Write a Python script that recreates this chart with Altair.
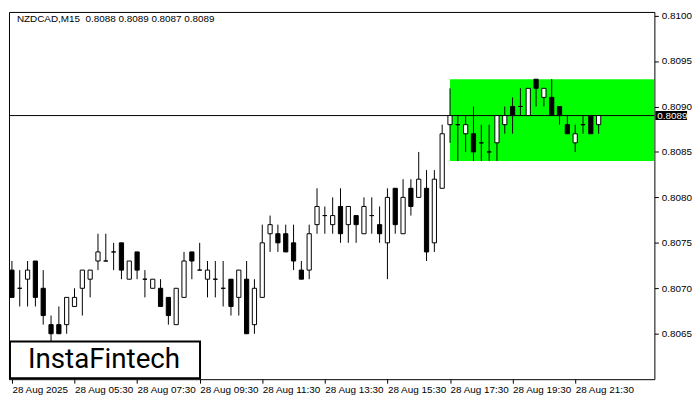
import altair as alt
import pandas as pd

# 15-minute candles, 28 Aug 2025 from 03:30, prices in units of 0.0001 above 0.8000
opens  = [72,70,71,73,70,66,66,66,68,70,71,73,73,74,75,71,74,71,70,70,69,66,69,74,72,71,71,70,71,69,
          71,66,69,76,76,76,75,72,72,77,78,77,79,77,78,76,78,77,75,81,76,81,80,81,75,81,88,88,87,87,
          86,85,86,88,90,90,89,93,91,91,90,88,86,88,89,88]
highs  = [73,72,73,73,72,67,68,69,70,72,72,76,76,75,75,73,74,72,71,71,69,70,74,74,75,73,73,73,71,72,
          73,71,77,78,77,77,77,73,77,81,79,80,81,79,78,80,80,79,81,81,82,82,85,83,83,88,92,89,89,90,
          88,88,89,90,91,92,92,93,92,93,90,89,88,89,89,89]
lows   = [69,68,68,68,66,64,65,65,68,67,69,72,73,72,71,71,71,69,70,68,66,66,69,71,72,69,69,68,67,67,
          65,65,69,74,74,74,72,71,71,76,76,76,75,75,75,76,76,75,71,76,76,78,80,73,74,81,86,84,85,84,
          84,84,84,87,87,89,89,90,90,89,88,87,85,87,87,87]
closes = [69,70,72,69,67,65,65,69,69,72,72,74,73,74,72,73,72,71,71,68,67,70,73,73,72,72,71,70,68,72,
          65,70,75,77,75,74,73,71,76,79,78,78,76,79,77,79,78,76,80,77,80,79,82,74,82,87,89,88,88,85,
          86,85,89,89,89,90,92,92,92,89,89,87,87,88,87,89]

tick_index = [0, 8, 16, 24, 32, 40, 48, 56, 64, 72]
tick_labels = ["28 Aug 2025", "28 Aug 05:30", "28 Aug 07:30", "28 Aug 09:30", "28 Aug 11:30",
               "28 Aug 13:30", "28 Aug 15:30", "28 Aug 17:30", "28 Aug 19:30", "28 Aug 21:30"]
y_ticks = [0.8065, 0.8070, 0.8075, 0.8080, 0.8085, 0.8090, 0.8095, 0.8100]

zone_start = 56
zone_low, zone_high = 0.8084, 0.8093
level = 0.8089
title_text = "NZDCAD,M15\u00a0\u00a00.8088 0.8089 0.8087 0.8089"
logo_text = "InstaFintech"

W, H = 652, 371
XMIN, XMAX = -0.375, 82.125
YMIN, YMAX = 0.8060, 0.81004
FONT = "Liberation Sans"

df = pd.DataFrame({
    "k": list(range(len(opens))),
    "open": [0.8 + v / 10000 for v in opens],
    "high": [0.8 + v / 10000 for v in highs],
    "low": [0.8 + v / 10000 for v in lows],
    "close": [0.8 + v / 10000 for v in closes],
})
df["up"] = df["close"] >= df["open"]
df["x0"] = df["k"] - 0.27
df["x1"] = df["k"] + 0.27

expr = "''"
for v, lab in zip(reversed(tick_index), reversed(tick_labels)):
    expr = f"datum.value == {v} ? '{lab}' : ({expr})"

xs = alt.Scale(domain=[XMIN, XMAX], nice=False, zero=False)
ys = alt.Scale(domain=[YMIN, YMAX], nice=False, zero=False)

xaxis = alt.Axis(values=tick_index, labelExpr=expr, labelAlign="left", labelPadding=1,
                 tickSize=4, domain=False, grid=False, title=None, labelFont=FONT,
                 labelFontSize=10, labelColor="black", tickColor="black", labelOverlap=False,
                 labelBound=False, labelFlush=False)
yaxis = alt.Axis(orient="right", values=y_ticks, format=".4f", tickSize=4, labelPadding=3,
                 domain=False, grid=False, title=None, labelFont=FONT, labelFontSize=10,
                 labelColor="black", tickColor="black", labelOverlap=False, labelFlush=False)

zone = alt.Chart(pd.DataFrame({"a": [zone_start], "b": [XMAX], "lo": [zone_low], "hi": [zone_high]})).mark_rect(
    color="#00ff00", clip=True).encode(
    x=alt.X("a:Q", scale=xs, axis=xaxis), x2="b:Q",
    y=alt.Y("lo:Q", scale=ys, axis=yaxis), y2="hi:Q")

hline = alt.Chart(pd.DataFrame({"p": [level]})).mark_rule(color="black", strokeWidth=1).encode(
    y=alt.Y("p:Q", scale=ys), x=alt.value(0), x2=alt.value(W))

base = alt.Chart(df)
wicks = base.mark_rule(color="black", strokeWidth=1).encode(
    x=alt.X("k:Q", scale=xs), y=alt.Y("low:Q", scale=ys), y2="high:Q")
bodies = base.mark_rect(stroke="black", strokeWidth=1).encode(
    x=alt.X("x0:Q", scale=xs), x2="x1:Q",
    y=alt.Y("open:Q", scale=ys), y2="close:Q",
    fill=alt.condition("datum.up", alt.value("white"), alt.value("black")))

title = alt.Chart(pd.DataFrame({"t": [title_text]})).mark_text(
    align="left", baseline="middle", font=FONT, fontSize=10, color="black").encode(
    x=alt.value(8), y=alt.value(7), text="t:N")

logo_box = alt.Chart(pd.DataFrame({"t": [logo_text]})).mark_rect(
    fill="white", stroke="black", strokeWidth=2).encode(
    x=alt.value(1), x2=alt.value(193), y=alt.value(333), y2=alt.value(370))
logo = alt.Chart(pd.DataFrame({"t": [logo_text]})).mark_text(
    align="center", baseline="middle", font="Roboto", fontSize=28, color="black").encode(
    x=alt.value(96), y=alt.value(352), text="t:N")

tag_box = alt.Chart(pd.DataFrame({"lo": [level - 0.00005], "hi": [level + 0.00005]})).mark_rect(
    color="black", clip=False).encode(
    x=alt.value(W + 1), x2=alt.value(W + 33), y=alt.Y("lo:Q", scale=ys), y2="hi:Q")
tag_text = alt.Chart(pd.DataFrame({"p": [level], "t": [f"{level:.4f}"]})).mark_text(
    align="left", baseline="middle", font=FONT, fontSize=10, color="white").encode(
    x=alt.value(W + 3), y=alt.Y("p:Q", scale=ys), text="t:N")

chart = alt.layer(zone, hline, wicks, bodies, title, logo_box, logo, tag_box, tag_text).properties(
    width=W, height=H, padding=0, background="white"
).configure_view(stroke="black", strokeWidth=1)

chart.save("out.html", embed_options={"renderer": "svg", "actions": False})
